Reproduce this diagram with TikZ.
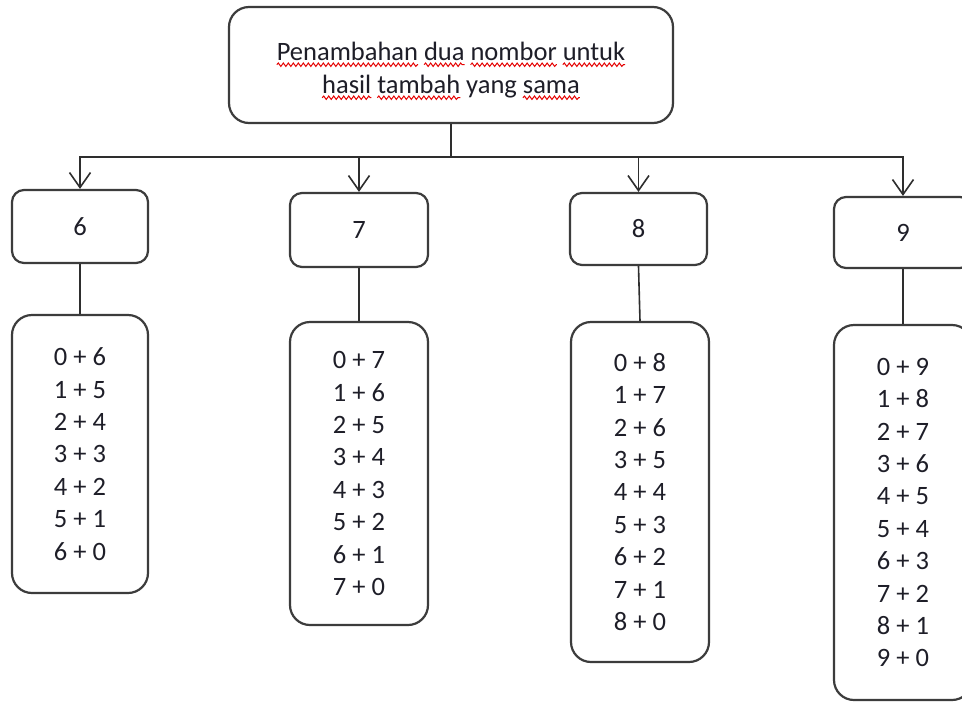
\documentclass[tikz,border=0pt]{standalone}
\usepackage{fontspec}
\setmainfont{Carlito}
\usetikzlibrary{arrows.meta,decorations.pathmorphing}
% red wavy underline, as a spell checker marks words
\newlength\wavelen
\newcommand\redwave[1]{\setbox0\hbox{#1}\wavelen=\wd0\relax
  \tikz[overlay,baseline=0pt,x=1pt,y=1pt]\draw[draw=red!90!black,line width=1pt,
    sharp corners,decorate,decoration={snake,segment length=5pt,amplitude=1.7pt}]
    (0pt,-4.5pt) -- (\wavelen,-4.5pt);\box0\relax}
\definecolor{boxline}{HTML}{3C3C3C}
\definecolor{conn}{HTML}{2E2E2E}
\definecolor{ink}{HTML}{1E1E28}
\tikzset{
  box/.style={draw=boxline, line width=2.2pt, fill=white, inner sep=0pt,
    text=ink, font=\fontsize{26.5}{33}\selectfont, align=center},
  headbox/.style={box, rounded corners=20pt},
  sumbox/.style={box, rounded corners=12pt},
  listbox/.style={box, rounded corners=20pt, font=\fontsize{26.5}{32.4}\selectfont},
  link/.style={draw=conn, line width=1.6pt},
  arr/.style={link, -{Straight Barb[length=15pt,width=21pt,line width=1.6pt]}}
}
\begin{document}
\begin{tikzpicture}[x=1pt,y=-1pt]
\useasboundingbox (0,0) rectangle (962,702);
\fill[white] (0,0) rectangle (962,702);

% heading (the strut lowers the two lines a little inside the box)
\node[headbox, minimum width=444pt, minimum height=116pt] (top) at (451,65)
  {\rule{0pt}{28pt}\redwave{Penambahan} \redwave{dua} \redwave{nombor} \redwave{untuk}\\
   \redwave{hasil} \redwave{tambah} yang \redwave{sama}};

% sums
\node[sumbox, minimum width=136pt, minimum height=73pt] (n6) at (80,226.5) {6};
\node[sumbox, minimum width=138pt, minimum height=74pt] (n7) at (359,230) {7};
\node[sumbox, minimum width=137pt, minimum height=72pt] (n8) at (638.5,229) {8};
\node[sumbox, minimum width=138pt, minimum height=71pt] (n9) at (903,232.5) {9};

% pairs for each sum
\node[listbox, minimum width=136pt, minimum height=278pt] (s6) at (80,454)
  {0 + 6\\1 + 5\\2 + 4\\3 + 3\\4 + 2\\5 + 1\\6 + 0};
\node[listbox, minimum width=138pt, minimum height=303pt] (s7) at (359,473.5)
  {0 + 7\\1 + 6\\2 + 5\\3 + 4\\4 + 3\\5 + 2\\6 + 1\\7 + 0};
\node[listbox, minimum width=138pt, minimum height=340pt] (s8) at (640,492)
  {0 + 8\\1 + 7\\2 + 6\\3 + 5\\4 + 4\\5 + 3\\6 + 2\\7 + 1\\8 + 0};
\node[listbox, minimum width=138pt, minimum height=375pt] (s9) at (903,512.5)
  {0 + 9\\1 + 8\\2 + 7\\3 + 6\\4 + 5\\5 + 4\\6 + 3\\7 + 2\\8 + 1\\9 + 0};

% branching arrows
\coordinate (bus) at (451,157);
\draw[link] (top.south) -- (bus);
\foreach \n in {n6,n7,n8,n9}
  \draw[arr] (bus) -| (\n.north);

% links to the pair lists
\foreach \a/\b in {n6/s6,n7/s7,n8/s8,n9/s9}
  \draw[link] (\a.south) -- (\b.north);
\end{tikzpicture}
\end{document}
